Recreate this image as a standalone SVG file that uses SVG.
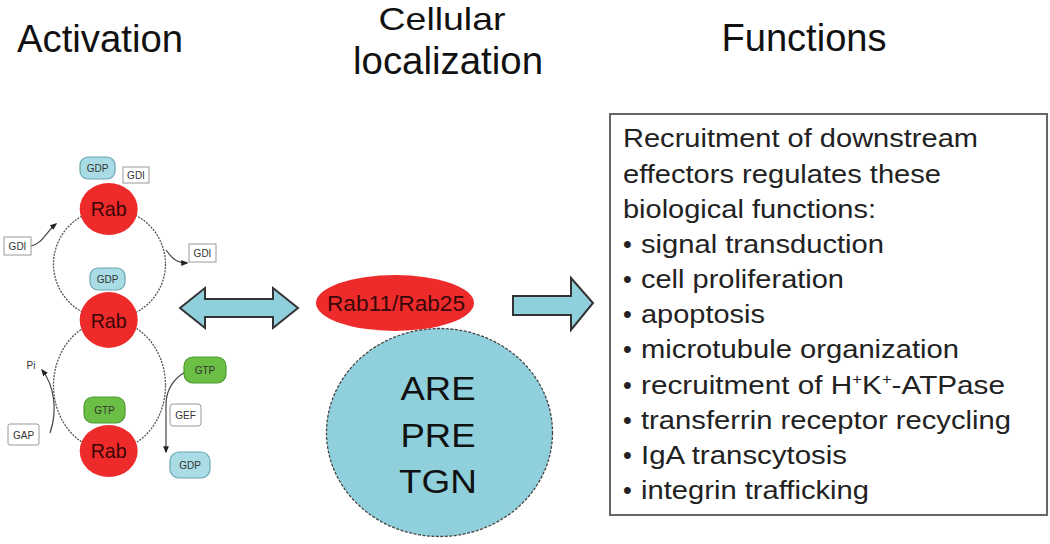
<svg xmlns="http://www.w3.org/2000/svg" width="1050" height="544" viewBox="0 0 1050 544">
<defs>
<style>
.t{font-family:"Liberation Sans",Arial,sans-serif;fill:#111}
.title{font-size:38px}
.fn{font-size:25px;fill:#222}
.rab{fill:#ee2b2b}
.rabt{font-family:"Liberation Sans",Arial,sans-serif;font-size:21px;fill:#3a0505;text-anchor:middle}
.gdp{fill:#a9dce4;stroke:#6aa6b2;stroke-width:1.2}
.gtp{fill:#6cbf45;stroke:#4a9a30;stroke-width:1.2}
.lbl{fill:#fff;stroke:#999;stroke-width:1}
.st{font-family:"Liberation Sans",Arial,sans-serif;font-size:10px;text-anchor:middle;fill:#333}
.cyc{fill:none;stroke:#555;stroke-width:1.3;stroke-dasharray:2 1.2}
.con{fill:none;stroke:#444;stroke-width:1.2}
.big{fill:#8fd0dc;stroke:#333;stroke-width:2}
</style>
<marker id="ah" viewBox="0 0 10 10" refX="8" refY="5" markerWidth="6" markerHeight="6" orient="auto-start-reverse">
<path d="M0,1 L10,5 L0,9 z" fill="#222"/>
</marker>
</defs>
<rect width="1050" height="544" fill="#fff"/>

<g id="titles">
<text class="t title" x="100" y="52" text-anchor="middle" textLength="166" lengthAdjust="spacingAndGlyphs">Activation</text>
<text class="t" x="442" y="30" font-size="32" text-anchor="middle" textLength="127" lengthAdjust="spacingAndGlyphs">Cellular</text>
<text class="t title" x="448" y="74" text-anchor="middle" textLength="190" lengthAdjust="spacingAndGlyphs">localization</text>
<text class="t title" x="804" y="51" text-anchor="middle" textLength="165" lengthAdjust="spacingAndGlyphs">Functions</text>
</g>

<g id="connectors">
<ellipse class="cyc" cx="109.5" cy="264" rx="56" ry="55"/>
<ellipse class="cyc" cx="109.5" cy="385.5" rx="56" ry="65"/>
<path class="con" d="M31,246 C42,244 46,232 56,224" marker-end="url(#ah)"/>
<path class="con" d="M166,250 C172,258 176,263 187,263" marker-end="url(#ah)"/>
<path class="con" d="M50,433 C58,410 54,385 42,370" marker-end="url(#ah)"/>
<path class="con" d="M185,372 C172,380 166,392 166,405 L166,452" marker-end="url(#ah)"/>
<polygon class="big" points="180,308 205,288 205,299 273,299 273,288 298,308 273,328 273,317 205,317 205,328"/>
<polygon class="big" points="513,296 571,296 571,278 593,303 571,330 571,315 513,315"/>
</g>

<g id="rab-top">
<ellipse class="rab" cx="108.7" cy="209" rx="29" ry="26"/>
<text class="rabt" x="108.7" y="216" textLength="36" lengthAdjust="spacingAndGlyphs">Rab</text>
</g>
<g id="gdp-top">
<rect class="gdp" x="80" y="157" width="35" height="22" rx="8"/>
<text class="st" x="97.5" y="172">GDP</text>
</g>
<g id="gdi-top">
<rect class="lbl" x="123" y="167" width="26" height="16"/>
<text class="st" x="136" y="179" font-size="9">GDI</text>
</g>
<g id="gdi-left">
<rect class="lbl" x="4" y="237" width="27" height="18"/>
<text class="st" x="17.5" y="250" font-size="9">GDI</text>
</g>
<g id="gdi-right">
<rect class="lbl" x="189" y="244" width="27" height="18"/>
<text class="st" x="202.5" y="257" font-size="9">GDI</text>
</g>
<g id="rab-mid">
<ellipse class="rab" cx="108.7" cy="320" rx="29" ry="28"/>
<text class="rabt" x="108.7" y="328" textLength="36" lengthAdjust="spacingAndGlyphs">Rab</text>
</g>
<g id="gdp-mid">
<rect class="gdp" x="90" y="268" width="35" height="22" rx="8"/>
<text class="st" x="107.5" y="283">GDP</text>
</g>
<g id="rab-bottom">
<ellipse class="rab" cx="108.7" cy="451" rx="29" ry="26"/>
<text class="rabt" x="108.7" y="458" textLength="36" lengthAdjust="spacingAndGlyphs">Rab</text>
</g>
<g id="gtp-bottom">
<rect class="gtp" x="84" y="397" width="41" height="26" rx="9"/>
<text class="st" x="104.5" y="414" fill="#1f4a10">GTP</text>
</g>
<g id="gtp-right">
<rect class="gtp" x="184" y="357" width="42" height="26" rx="9"/>
<text class="st" x="205" y="374" fill="#1f4a10">GTP</text>
</g>
<g id="gef">
<rect class="lbl" x="170" y="404" width="31" height="22" rx="3"/>
<text class="st" x="185.5" y="419">GEF</text>
</g>
<g id="gdp-bottom">
<rect class="gdp" x="170" y="452" width="40" height="26" rx="9"/>
<text class="st" x="190" y="469">GDP</text>
</g>
<g id="gap">
<rect class="lbl" x="8" y="424" width="31" height="21" rx="2"/>
<text class="st" x="23.5" y="439">GAP</text>
</g>
<g id="pi">
<text class="st" x="31" y="369">Pi</text>
</g>

<g id="compartment">
<ellipse cx="439.5" cy="432.5" rx="113" ry="104" fill="#8fd0dc" stroke="#444" stroke-width="1.3" stroke-dasharray="3 1.5"/>
<text class="t" x="438" y="400" font-size="33" text-anchor="middle" textLength="75" lengthAdjust="spacingAndGlyphs">ARE</text>
<text class="t" x="438" y="447" font-size="33" text-anchor="middle" textLength="75" lengthAdjust="spacingAndGlyphs">PRE</text>
<text class="t" x="438" y="493" font-size="33" text-anchor="middle" textLength="78" lengthAdjust="spacingAndGlyphs">TGN</text>
</g>
<g id="rab11">
<ellipse cx="395" cy="303" rx="79" ry="28" fill="#ee2b2b"/>
<text x="396" y="311" font-family="Liberation Sans, Arial, sans-serif" font-size="22" fill="#3a0808" text-anchor="middle" textLength="138" lengthAdjust="spacingAndGlyphs">Rab11/Rab25</text>
</g>

<g id="functions">
<rect x="610" y="114" width="437" height="401" fill="#fff" stroke="#666" stroke-width="2"/>
<text class="t fn" x="623" y="147" textLength="355" lengthAdjust="spacingAndGlyphs">Recruitment of downstream</text>
<text class="t fn" x="623" y="183" textLength="318" lengthAdjust="spacingAndGlyphs">effectors regulates these</text>
<text class="t fn" x="623" y="218" textLength="253" lengthAdjust="spacingAndGlyphs">biological functions:</text>
<text class="t fn" x="623" y="253">•</text>
<text class="t fn" x="641" y="253" textLength="243" lengthAdjust="spacingAndGlyphs">signal transduction</text>
<text class="t fn" x="623" y="288">•</text>
<text class="t fn" x="641" y="288" textLength="203" lengthAdjust="spacingAndGlyphs">cell proliferation</text>
<text class="t fn" x="623" y="323">•</text>
<text class="t fn" x="641" y="323" textLength="124" lengthAdjust="spacingAndGlyphs">apoptosis</text>
<text class="t fn" x="623" y="358">•</text>
<text class="t fn" x="641" y="358" textLength="318" lengthAdjust="spacingAndGlyphs">microtubule organization</text>
<text class="t fn" x="623" y="394">•</text>
<text class="t fn" x="641" y="394" textLength="364" lengthAdjust="spacingAndGlyphs">recruitment of H<tspan font-size="14" dy="-10">+</tspan><tspan dy="10">K</tspan><tspan font-size="14" dy="-10">+</tspan><tspan dy="10">-ATPase</tspan></text>
<text class="t fn" x="623" y="429">•</text>
<text class="t fn" x="641" y="429" textLength="370" lengthAdjust="spacingAndGlyphs">transferrin receptor recycling</text>
<text class="t fn" x="623" y="464">•</text>
<text class="t fn" x="641" y="464" textLength="206" lengthAdjust="spacingAndGlyphs">IgA transcytosis</text>
<text class="t fn" x="623" y="499">•</text>
<text class="t fn" x="641" y="499" textLength="228" lengthAdjust="spacingAndGlyphs">integrin trafficking</text>
</g>
</svg>
